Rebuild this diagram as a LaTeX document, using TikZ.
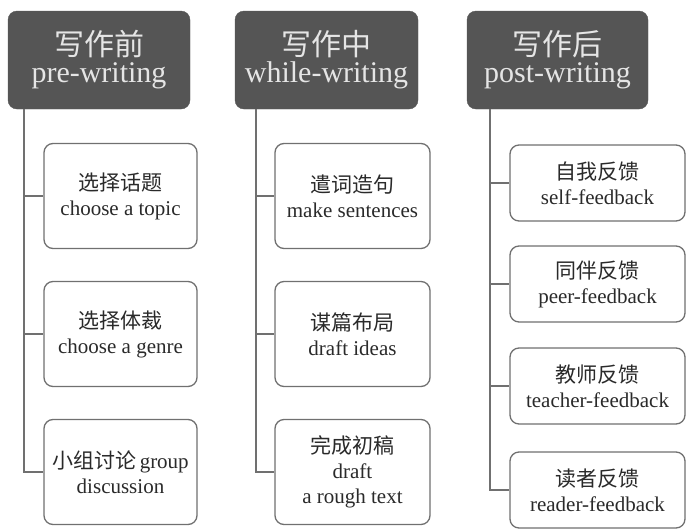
\documentclass[tikz,border=0pt]{standalone}
\usepackage{fontspec}
\setmainfont{Liberation Serif}
\newfontfamily\cjk{Noto Sans CJK SC}
\usetikzlibrary{positioning}

\definecolor{headgray}{HTML}{555555}
\definecolor{linegray}{HTML}{707070}
\definecolor{textgray}{HTML}{2A2A2A}

\begin{document}
\begin{tikzpicture}[
    x=1pt, y=-1pt,
    head/.style={rectangle, rounded corners=9pt, minimum width=182pt, minimum height=98pt, text centered, align=center, fill=headgray, draw=headgray, text=white!90!black, font=\fontsize{30}{27}\selectfont, inner sep=0pt},
    item/.style={rectangle, rounded corners=9pt, minimum height=105pt, text centered, align=center, draw=linegray, line width=1.3pt, fill=white, text=textgray, font=\fontsize{21}{25}\selectfont, inner sep=2pt},
    small/.style={item, minimum width=175pt, minimum height=76pt},
    link/.style={draw=linegray, line width=1.1pt}
]
\useasboundingbox (0,0) rectangle (686,528);

% Headers
\node[head] (pre) at (99,60) {{\cjk 写作前}\\pre-writing};
\node[head, minimum width=183pt] (while) at (326.5,60) {{\cjk 写作中}\\while-writing};
\node[head, minimum width=181pt] (post) at (557.5,60) {{\cjk 写作后}\\post-writing};

% Pre-writing steps
\node[item, minimum width=153pt] (topic) at (120.5,196) {{\cjk 选择话题}\\choose a topic};
\node[item, minimum width=153pt] (genre) at (120.5,334) {{\cjk 选择体裁}\\choose a genre};
\node[item, minimum width=153pt] (group) at (120.5,472) {{\cjk 小组讨论}\,group\\discussion};

% While-writing steps
\node[item, minimum width=155pt] (sent) at (352.5,196) {{\cjk 遣词造句}\\make sentences};
\node[item, minimum width=155pt] (ideas) at (352.5,334) {{\cjk 谋篇布局}\\draft ideas};
\node[item, minimum width=155pt] (rough) at (352.5,472) {{\cjk 完成初稿}\\draft\\a rough text};

% Post-writing steps
\node[small] (self) at (597.5,183) {{\cjk 自我反馈}\\self-feedback};
\node[small] (peer) at (597.5,284) {{\cjk 同伴反馈}\\peer-feedback};
\node[small] (teacher) at (597.5,386) {{\cjk 教师反馈}\\teacher-feedback};
\node[small] (reader) at (597.5,490) {{\cjk 读者反馈}\\reader-feedback};

% Trunk coordinates
\coordinate (preroot) at (24,109);
\coordinate (whileroot) at (256,109);
\coordinate (postroot) at (490,109);

% Lines
\draw[link] (preroot) |- (group.west);
\draw[link] (preroot |- topic.west) -- (topic.west);
\draw[link] (preroot |- genre.west) -- (genre.west);

\draw[link] (whileroot) |- (rough.west);
\draw[link] (whileroot |- sent.west) -- (sent.west);
\draw[link] (whileroot |- ideas.west) -- (ideas.west);

\draw[link] (postroot) |- (reader.west);
\draw[link] (postroot |- self.west) -- (self.west);
\draw[link] (postroot |- peer.west) -- (peer.west);
\draw[link] (postroot |- teacher.west) -- (teacher.west);
\end{tikzpicture}
\end{document}
